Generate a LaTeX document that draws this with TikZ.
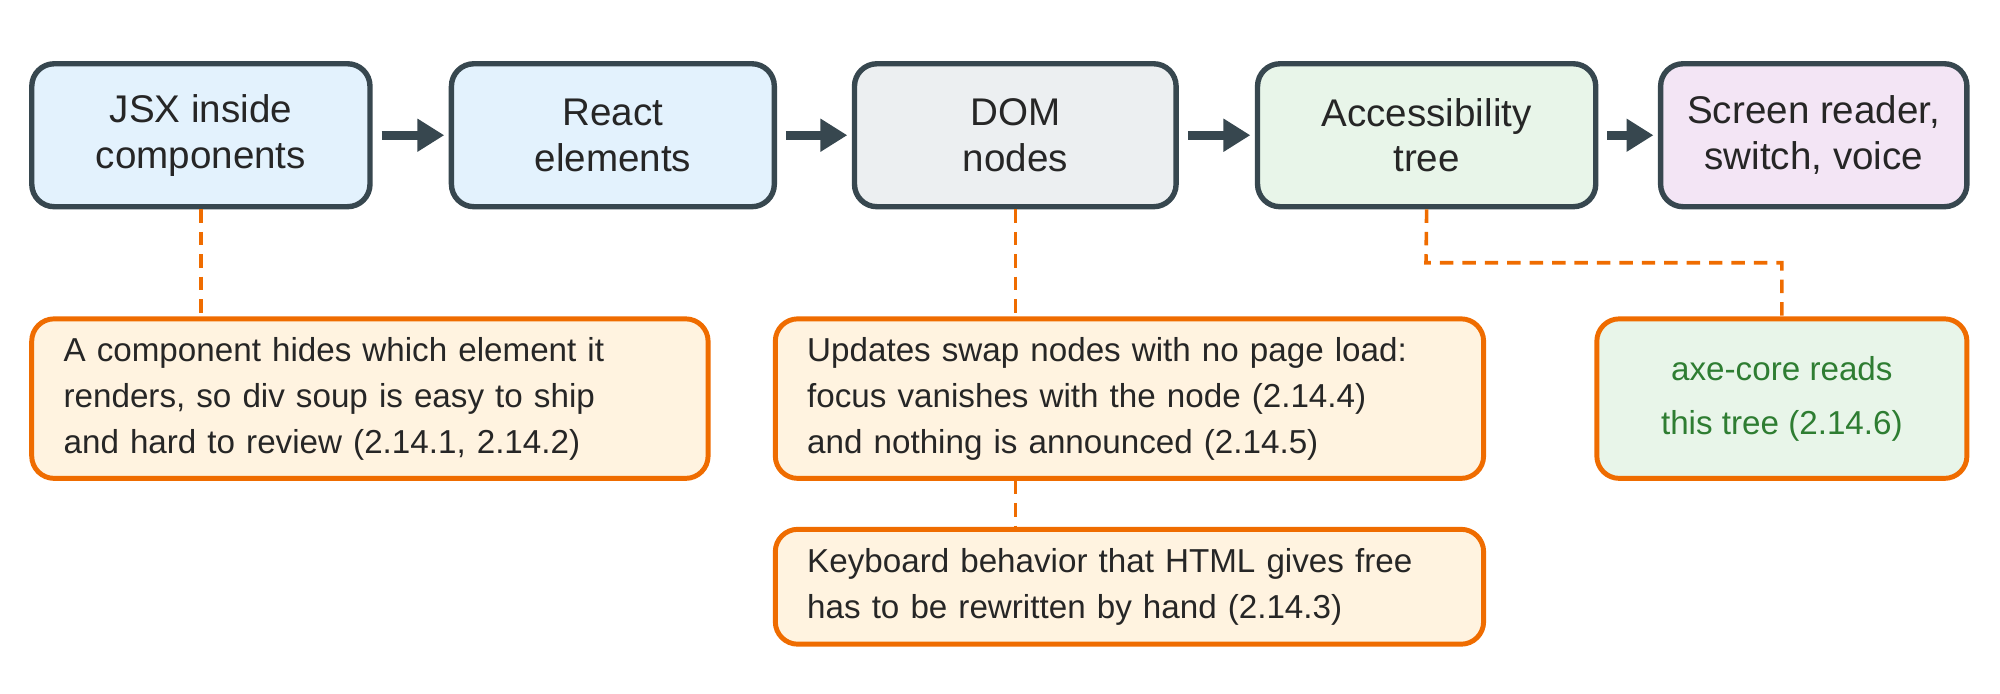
\documentclass[tikz,border=0pt]{standalone}
\usepackage{fontspec}
\setmainfont{Liberation Sans}
\usetikzlibrary{positioning, arrows.meta}
\definecolor{edge}{HTML}{37474F}
\definecolor{note}{HTML}{EF6C00}
\definecolor{notefill}{HTML}{FFF3E0}
\definecolor{bluefill}{HTML}{E3F2FD}
\definecolor{grayfill}{HTML}{ECEFF1}
\definecolor{greenfill}{HTML}{E8F5E9}
\definecolor{violetfill}{HTML}{F3E5F5}
\definecolor{greentext}{HTML}{2E7D32}
\tikzstyle{stage}=[draw=edge, line width=1.2pt, rounded corners=5pt, align=center, font=\fontsize{8.6}{10.2}\selectfont, text=black!85]
\tikzstyle{remark}=[draw=note, line width=1.1pt, rounded corners=5pt, fill=notefill, font=\fontsize{7.4}{10.3}\selectfont, text=black!85]
\tikzstyle{link}=[draw=note, line width=0.8pt, dash pattern=on 3pt off 2pt]
\tikzset{>={Triangle[length=6pt,width=7pt]}}

\begin{document}
\begin{tikzpicture}[x=0.01cm, y=-0.01cm]
\useasboundingbox (0,0) rectangle (1568,544);
% the pipeline stages
\node[stage, fill=bluefill, minimum width=2.65cm, minimum height=1.12cm] (jsx) at (157.5,106) {JSX inside\\components};
\node[stage, fill=bluefill, minimum width=2.53cm, minimum height=1.12cm] (react) at (480.5,106) {React\\elements};
\node[stage, fill=grayfill, minimum width=2.52cm, minimum height=1.12cm] (dom) at (796,106) {DOM\\nodes};
\node[stage, fill=greenfill, minimum width=2.65cm, minimum height=1.12cm] (acc) at (1118.5,106) {Accessibility\\tree};
\node[stage, fill=violetfill, minimum width=2.40cm, minimum height=1.12cm] (at) at (1422,106) {Screen reader,\\switch, voice};
% the arrows
\foreach \a/\b in {jsx/react, react/dom, dom/acc, acc/at}
  \draw[->, edge, line width=2pt, shorten <=2pt, shorten >=1pt] (\a) -- (\b);
% the notes
\node[remark, inner xsep=0.25cm, minimum height=1.25cm, text width=4.8cm, align=left] (n1) at (290,312.5) {A component hides which element it\\renders, so div soup is easy to ship\\and hard to review (2.14.1, 2.14.2)};
\node[remark, inner xsep=0.25cm, minimum height=1.25cm, text width=5.05cm, align=left] (n2) at (885.5,312.5) {Updates swap nodes with no page load:\\focus vanishes with the node (2.14.4)\\and nothing is announced (2.14.5)};
\node[remark, fill=greenfill, text=greentext, font=\fontsize{7.4}{12}\selectfont, minimum width=2.90cm, minimum height=1.25cm, align=center] (n3) at (1397,312.5) {axe-core reads\\this tree (2.14.6)};
\node[remark, inner xsep=0.25cm, minimum height=0.90cm, text width=5.05cm, align=left] (n4) at (885.5,460) {Keyboard behavior that HTML gives free\\has to be rewritten by hand (2.14.3)};
% the dashed links
\draw[link] (jsx.south) -- (jsx.south |- n1.north);
\draw[link] (dom.south) -- (dom.south |- n2.north);
\draw[link] (dom.south |- n2.south) -- (dom.south |- n4.north);
\coordinate (bend1) at (1118,206);
\coordinate (bend2) at (1397,206);
\draw[link] (acc.south) -- (bend1) -- (bend2) -- (n3.north);
\end{tikzpicture}
\end{document}
